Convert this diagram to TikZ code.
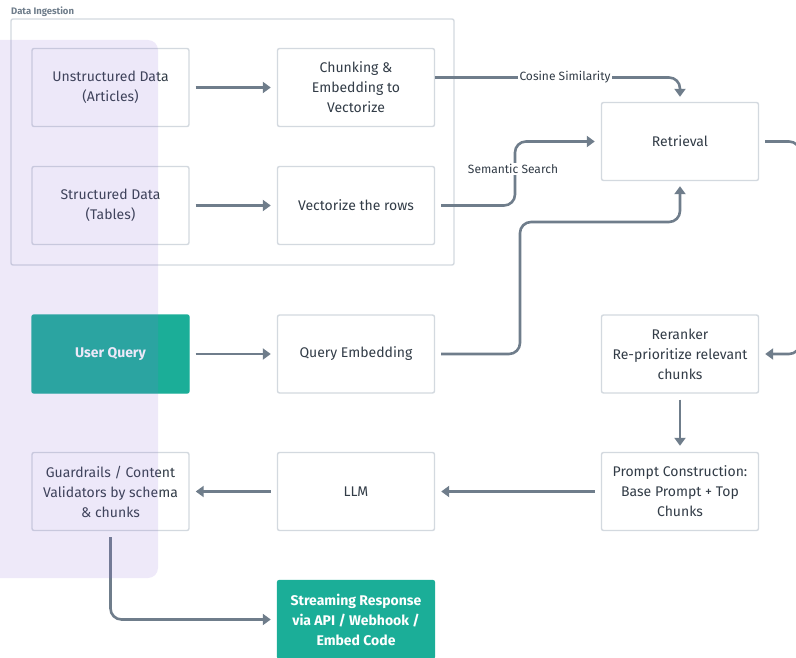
\documentclass[tikz,border=0pt]{standalone}
\usepackage{fontspec}
\setmainfont{Fira Sans}
\usetikzlibrary{arrows.meta}
\definecolor{bordc}{HTML}{D3D9DF}
\definecolor{textc}{HTML}{323C47}
\definecolor{arrc}{HTML}{6F7D8B}
\definecolor{tealc}{HTML}{1BAE98}
\definecolor{purpc}{HTML}{8C6BD8}
\definecolor{labc}{HTML}{6F7D8B}
\tikzset{
  box/.style={draw=bordc, line width=1.4pt, rounded corners=2pt, fill=white,
    minimum width=157pt, minimum height=78pt, align=center, text=textc,
    font=\fontsize{14}{20}\selectfont, inner sep=2pt},
  tealbox/.style={box, draw=tealc, fill=tealc, text=white, font=\fontsize{14}{20}\selectfont\bfseries},
  arr/.style={-{Triangle[length=8pt,width=11pt]}, line width=2.6pt, draw=arrc, rounded corners=11pt},
  elabel/.style={fill=white, text=textc, font=\fontsize{12}{14}\selectfont, inner sep=1.5pt}
}
\begin{document}
\begin{tikzpicture}[x=1pt,y=-1pt]
\useasboundingbox (0,0) rectangle (796,658);
% frame
\draw[draw=bordc, line width=1.4pt, rounded corners=2pt] (11,19) rectangle (454,265);
\node[anchor=south west, text=labc, font=\fontsize{9.5}{10}\selectfont\bfseries, inner sep=0pt] (dilab) at (11,17) {Data Ingestion};
% nodes
\node[box] (unst) at (110.5,87.5) {Unstructured Data\\(Articles)};
\node[box] (chunk) at (356,87.5) {Chunking \&\\Embedding to\\Vectorize};
\node[box] (struc) at (110.5,205.5) {Structured Data\\(Tables)};
\node[box] (vec) at (356,205.5) {Vectorize the rows};
\node[box] (ret) at (680,141.5) {Retrieval};
\node[tealbox] (uq) at (110.5,354) {User Query};
\node[box] (qe) at (356,354) {Query Embedding};
\node[box] (rr) at (680,354) {Reranker\\Re-prioritize relevant\\chunks};
\node[box] (gr) at (110.5,491.5) {Guardrails / Content\\Validators by schema\\\& chunks};
\node[box] (llm) at (356,491.5) {LLM};
\node[box] (pc) at (680,491.5) {Prompt Construction:\\Base Prompt + Top\\Chunks};
\node[tealbox] (str) at (356,619.5) {Streaming Response\\via API / Webhook /\\Embed Code};
% arrows
\draw[arr] ([xshift=6pt]unst.east) -- ([xshift=-6pt]chunk.west);
\draw[arr] ([xshift=6pt]struc.east) -- ([xshift=-6pt]vec.west);
\draw[arr] ([xshift=6pt]uq.east) -- ([xshift=-6pt]qe.west);
\draw[arr] ([yshift=10pt]chunk.east) -| ([yshift=5pt]ret.north);
\node[elabel] (cos) at (565,77.5) {Cosine Similarity};
\draw[arr] ([xshift=6pt]vec.east) -| (515,174) |- ([xshift=-6pt]ret.west);
\node[elabel] (sem) at (513,169) {Semantic Search};
\draw[arr] ([xshift=6pt]qe.east) -| (520,290) |- (600,222) -| ([yshift=-5pt]ret.south);
\draw[arr] ([xshift=6pt]ret.east) -| (800,250) |- ([xshift=6pt]rr.east);
\draw[arr] ([yshift=-6pt]rr.south) -- ([yshift=6pt]pc.north);
\draw[arr] ([xshift=-6pt]pc.west) -- ([xshift=6pt]llm.east);
\draw[arr] ([xshift=-6pt]llm.west) -- ([xshift=6pt]gr.east);
\draw[arr] ([yshift=-6pt]gr.south) |- ([xshift=-6pt]str.west);
% overlay
\fill[purpc, opacity=0.15, rounded corners=10pt] (-20,40) rectangle (158,578);
\end{tikzpicture}
\end{document}
